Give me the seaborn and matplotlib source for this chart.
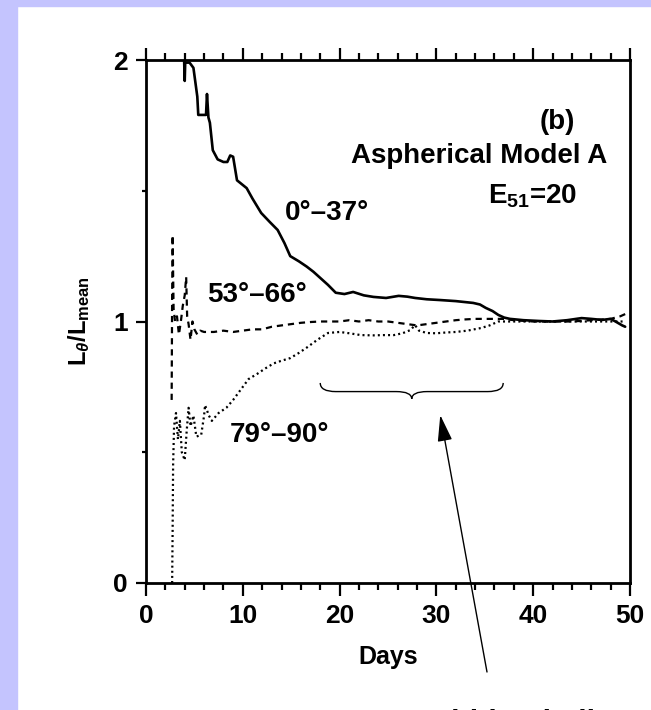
import numpy as np
import pandas as pd
import matplotlib
import matplotlib.pyplot as plt
import seaborn as sns
from matplotlib.patches import Rectangle, PathPatch
from matplotlib.path import Path
from matplotlib.ticker import MultipleLocator, FixedLocator

matplotlib.use('Agg')

# --- data ---
days_polar = [3.9, 4.0, 4.05, 4.5, 4.9, 5.3, 5.4, 6.2, 6.3, 6.45, 6.6, 6.9, 7.4, 8.0, 8.4, 8.7, 9.0,
              9.4, 10.4, 11.0, 11.9, 12.8, 13.6, 14.3, 14.9, 15.8, 16.6, 17.3, 17.9, 18.8, 19.6,
              20.5, 21.4, 22.5, 23.5, 24.8, 26.1, 27.0, 27.8, 29.0, 30.4, 32.0, 33.8, 34.5, 35.1,
              35.8, 36.4, 37.0, 37.6, 39.0, 40.6, 42.0, 43.5, 45.0, 46.0, 47.1, 48.0, 48.5, 49.2, 49.5]
lum_polar = [2.05, 1.92, 1.99, 1.99, 1.97, 1.86, 1.79, 1.79, 1.87, 1.78, 1.76, 1.655, 1.62, 1.61,
             1.61, 1.635, 1.63, 1.54, 1.51, 1.47, 1.415, 1.38, 1.35, 1.30, 1.25, 1.23, 1.21, 1.19,
             1.17, 1.14, 1.11, 1.105, 1.113, 1.10, 1.094, 1.09, 1.098, 1.095, 1.09, 1.085, 1.082,
             1.078, 1.071, 1.065, 1.052, 1.04, 1.025, 1.015, 1.01, 1.005, 1.002, 1.0, 1.005, 1.013,
             1.01, 1.006, 1.01, 1.0, 0.985, 0.98]

days_mid = [2.65, 2.7, 2.75, 2.85, 3.0, 3.2, 3.4, 3.6, 3.8, 4.0, 4.15, 4.25, 4.4, 4.6, 4.8, 5.0,
            5.3, 5.6, 6.0, 7.0, 8.0, 9.0, 10.0, 11.0, 12.0, 13.0, 14.0, 15.0, 16.0, 17.0, 18.0,
            19.0, 20.0, 21.0, 22.0, 23.0, 24.0, 25.0, 26.0, 27.0, 28.0, 29.0, 30.0, 31.0, 32.0,
            33.0, 34.0, 35.0, 36.0, 37.0, 38.0, 40.0, 42.0, 44.0, 46.0, 48.0, 49.0, 49.6]
lum_mid = [0.70, 1.10, 1.33, 1.05, 1.00, 1.02, 0.95, 1.0, 1.06, 1.10, 1.17, 1.02, 0.99, 0.93, 1.0,
           0.97, 0.95, 0.965, 0.96, 0.96, 0.965, 0.96, 0.965, 0.97, 0.97, 0.98, 0.985, 0.99, 0.995,
           0.998, 1.0, 1.0, 1.0, 1.005, 1.0, 1.005, 1.0, 1.0, 0.995, 0.99, 0.985, 0.99, 0.995, 1.0,
           1.005, 1.008, 1.01, 1.01, 1.01, 1.01, 1.005, 1.0, 1.0, 1.0, 1.005, 1.01, 1.02, 1.03]

days_eq = [2.7, 2.75, 2.8, 2.9, 3.1, 3.3, 3.5, 3.7, 4.0, 4.2, 4.4, 4.6, 4.9, 5.2, 5.7, 6.0, 6.1,
           6.5, 6.8, 7.5, 8.3, 9.0, 10.0, 10.6, 11.5, 12.3, 13.2, 14.0, 14.9, 15.8, 16.6, 17.7,
           18.8, 20.0, 21.0, 22.2, 23.5, 24.5, 25.6, 26.5, 27.3, 27.8, 28.2, 29.0, 30.0, 31.0,
           32.0, 33.2, 34.6, 35.5, 36.4, 37.5, 39.0, 41.0, 43.0, 45.0, 47.0, 48.5, 49.5]
lum_eq = [0.0, 0.20, 0.45, 0.60, 0.65, 0.55, 0.62, 0.50, 0.47, 0.58, 0.67, 0.60, 0.64, 0.56, 0.566,
          0.64, 0.68, 0.64, 0.62, 0.65, 0.67, 0.70, 0.75, 0.78, 0.80, 0.82, 0.84, 0.85, 0.86, 0.88,
          0.90, 0.93, 0.956, 0.96, 0.955, 0.948, 0.947, 0.948, 0.948, 0.955, 0.967, 0.986, 0.965,
          0.956, 0.955, 0.958, 0.96, 0.965, 0.975, 0.985, 1.0, 1.0, 1.0, 1.0, 1.0, 1.0, 1.0, 1.0, 1.0]

x_ticks = [0, 10, 20, 30, 40, 50]
y_ticks = [0, 1, 2]

sns.set_style('ticks')
plt.rcParams['font.family'] = ['Liberation Sans', 'DejaVu Sans']
plt.rcParams['font.weight'] = 'bold'
plt.rcParams['text.color'] = 'black'
plt.rcParams['axes.labelcolor'] = 'black'
plt.rcParams['axes.edgecolor'] = 'black'
plt.rcParams['xtick.color'] = 'black'
plt.rcParams['ytick.color'] = 'black'
plt.rcParams['mathtext.fontset'] = 'custom'
plt.rcParams['mathtext.rm'] = 'Liberation Sans:bold'
plt.rcParams['mathtext.it'] = 'Liberation Sans:bold:italic'
plt.rcParams['mathtext.bf'] = 'Liberation Sans:bold'

fig = plt.figure(figsize=(6.51, 7.10), dpi=100)
fig.patch.set_facecolor('white')
lav = '#c4c4fe'
fig.patches.append(Rectangle((0, 0), 17 / 651, 1, transform=fig.transFigure, color=lav, zorder=-5))
fig.patches.append(Rectangle((0, 1 - 6 / 710), 1, 6 / 710, transform=fig.transFigure, color=lav, zorder=-5))

ax = fig.add_axes([146 / 651, 127 / 710, 484 / 651, 523 / 710])

df_polar = pd.DataFrame({'days': days_polar, 'lum': lum_polar})
df_mid = pd.DataFrame({'days': days_mid, 'lum': lum_mid})
df_eq = pd.DataFrame({'days': days_eq, 'lum': lum_eq})

sns.lineplot(data=df_polar, x='days', y='lum', ax=ax, color='black', lw=1.9,
             estimator=None, sort=False)
sns.lineplot(data=df_mid, x='days', y='lum', ax=ax, color='black', lw=1.6,
             linestyle=(0, (2.8, 2.2)), estimator=None, sort=False)
sns.lineplot(data=df_eq, x='days', y='lum', ax=ax, color='black', lw=1.6,
             linestyle=(0, (0.9, 1.4)), estimator=None, sort=False)

ax.set_xlim(0, 50)
ax.set_ylim(0, 2)
ax.xaxis.set_major_locator(FixedLocator(x_ticks))
ax.xaxis.set_minor_locator(MultipleLocator(2))
ax.yaxis.set_major_locator(FixedLocator(y_ticks))
ax.yaxis.set_minor_locator(MultipleLocator(0.5))

for sp in ax.spines.values():
    sp.set_linewidth(2.0)
    sp.set_color('black')
ax.tick_params(axis='x', which='major', top=True, bottom=True, direction='out', length=9,
               width=1.6, labelsize=19, pad=6, colors='black')
ax.tick_params(axis='x', which='minor', top=True, bottom=True, direction='out', length=5,
               width=1.6, colors='black')
ax.tick_params(axis='y', which='major', left=True, right=False, direction='out', length=7,
               width=1.6, labelsize=19, pad=6, colors='black')
ax.tick_params(axis='y', which='minor', left=True, right=False, direction='out', length=3,
               width=1.6, colors='black')
for lab in ax.get_xticklabels() + ax.get_yticklabels():
    lab.set_fontweight('bold')

ax.set_xlabel('Days', fontsize=18, fontweight='bold', color='black')
ax.xaxis.set_label_coords(0.5, -0.118)
ax.set_ylabel(r'L$_{\theta}$/L$_{\rm mean}$', fontsize=17, fontweight='bold', color='black')
ax.yaxis.set_label_coords(-0.112, 0.5)

txt = dict(color='black', fontweight='bold', fontsize=20)
ax.text(42.5, 1.763, '(b)', ha='center', va='center', **txt)
ax.text(47.7, 1.633, 'Aspherical Model A', ha='right', va='center', **txt)
ax.text(35.3, 1.48, r'E$_{\rm 51}$=20', ha='left', va='center', **txt)
ax.text(14.3, 1.415, '0°–37°', ha='left', va='center', **txt)
ax.text(6.3, 1.10, '53°–66°', ha='left', va='center', **txt)
ax.text(8.7, 0.566, '79°–90°', ha='left', va='center', **txt)

# curly brace over the shell-interaction region
bx0, bx1, ytop, ymid, ybot = 18.0, 36.9, 0.765, 0.732, 0.704
bxm = (bx0 + bx1) / 2
d = 1.6
verts = [(bx0, ytop), (bx0, ymid), (bx0 + d, ymid), (bx0 + d, ymid),
         (bxm - d, ymid), (bxm, ymid), (bxm, ybot), (bxm, ymid), (bxm + d, ymid),
         (bx1 - d, ymid), (bx1, ymid), (bx1, ytop)]
codes = [Path.MOVETO, Path.CURVE3, Path.CURVE3, Path.LINETO,
         Path.LINETO, Path.CURVE3, Path.CURVE3, Path.CURVE3, Path.CURVE3,
         Path.LINETO, Path.CURVE3, Path.CURVE3]
ax.add_patch(PathPatch(Path(verts, codes), fill=False, lw=1.0, color='black'))

ax.annotate('', xy=(30.4, 0.642), xycoords='data', xytext=(487, 38), textcoords='figure pixels',
            arrowprops=dict(arrowstyle='-|>,head_length=0.9,head_width=0.25', lw=1.0,
                            color='black', shrinkA=0, shrinkB=0, mutation_scale=18),
            annotation_clip=False)

# caption continues below the visible slide area, only the letter tops show
fig.text(385 / 651, 0.5 / 710, '3 Bubble Shells', ha='left', va='top', fontsize=22,
         fontweight='bold', color='black')

fig.savefig('out.png', dpi=100)
